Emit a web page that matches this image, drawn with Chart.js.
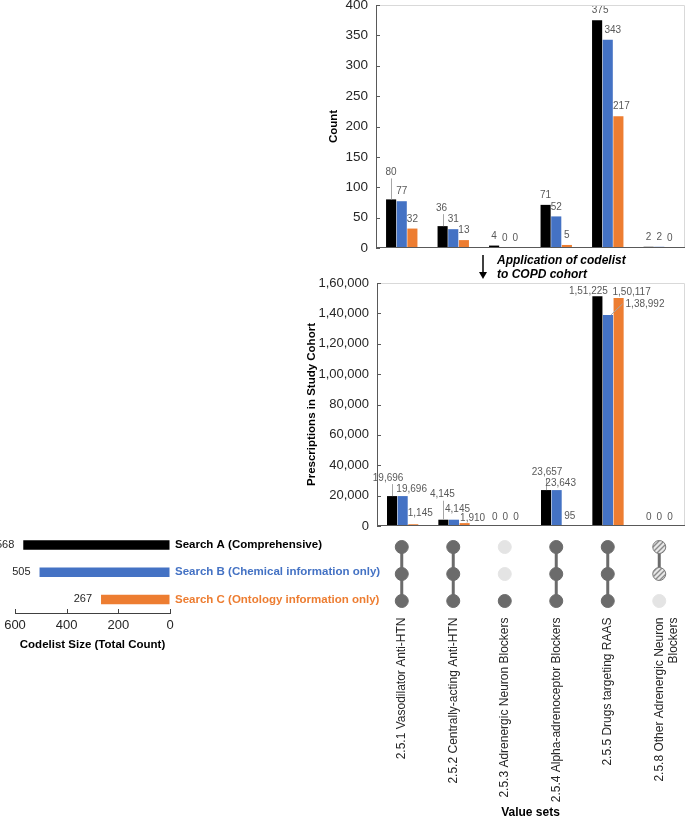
<!DOCTYPE html>
<html>
<head>
<meta charset="utf-8">
<script src="https://cdn.jsdelivr.net/npm/chart.js@4.4.1/dist/chart.umd.min.js"></script>
<style>
  body { margin: 0; background: #fff; font-family: "Liberation Sans", Arial, sans-serif; }
  #page { position: relative; width: 687px; height: 824px; overflow: hidden; }
  canvas { position: absolute; }
  #countChart { left: 300px; top: 0; }
  #rxChart { left: 300px; top: 270px; }
  #sizeChart { left: 0; top: 525px; }
  #setChart { left: 300px; top: 530px; }
  #arrow { position: absolute; left: 476px; top: 254px; }
  #note { position: absolute; left: 497px; top: 254px; font: italic bold 12px/13.5px "Liberation Sans", Arial, sans-serif; color: #000; }
</style>
</head>
<body>
<div id="page">
  <canvas id="countChart" width="387" height="262"></canvas>
  <canvas id="rxChart" width="387" height="270"></canvas>
  <canvas id="setChart" width="387" height="294"></canvas>
  <canvas id="sizeChart" width="395" height="130"></canvas>
  <svg id="arrow" width="14" height="28">
    <line x1="7" y1="1" x2="7" y2="19" stroke="#000" stroke-width="1.5"/>
    <polygon points="3,18 11,18 7,25" fill="#000"/>
  </svg>
  <div id="note">Application of codelist<br>to COPD cohort</div>
</div>
<script>
// Value sets (x categories) and searches
const valueSets = [
  "2.5.1 Vasodilator Anti-HTN",
  "2.5.2 Centrally-acting Anti-HTN",
  "2.5.3 Adrenergic Neuron Blockers",
  "2.5.4 Alpha-adrenoceptor Blockers",
  "2.5.5 Drugs targeting RAAS",
  "2.5.8 Other Adrenergic Neuron Blockers"
];
const searchNames = [
  "Search A (Comprehensive)",
  "Search B (Chemical information only)",
  "Search C (Ontology information only)"
];

// Codes per value set (Count)
const countA = [80, 36, 4, 71, 375, 2];
const countB = [77, 31, 0, 52, 343, 2];
const countC = [32, 13, 0, 5, 217, 0];

// Prescriptions in study cohort
const rxA = [19696, 4145, 0, 23657, 151225, 0];
const rxB = [19696, 4145, 0, 23643, 138992, 0];
const rxC = [1145, 1910, 0, 95, 150117, 0];

// Codelist size (total count)
const codelistSize = [568, 505, 267];

// Set membership for the dot matrix
const memberA = ["full", "full", "empty", "full", "full", "hatched"];
const memberB = ["full", "full", "empty", "full", "full", "hatched"];
const memberC = ["full", "full", "full", "full", "full", "empty"];

// Axis ranges
const countMax = 400, countStep = 50;
const rxMax = 160000, rxStep = 20000;
const sizeMax = 600, sizeStep = 200;

const colors = ["#000000", "#4472C4", "#ED7D31"];
const FONT = "'Liberation Sans', Arial, sans-serif";
Chart.defaults.font.family = FONT;

/* -------------------- helpers -------------------- */

// light frame on top/right, dark bottom axis, inward y ticks
const framePlugin = {
  id: "frame",
  afterDraw(chart) {
    const { ctx, chartArea: a } = chart;
    const y = chart.scales.y;
    ctx.save();
    ctx.lineWidth = 1;
    ctx.strokeStyle = "#d9d9d9";
    ctx.beginPath();
    ctx.moveTo(a.left, a.top + 0.5);
    ctx.lineTo(a.right - 0.5, a.top + 0.5);
    ctx.lineTo(a.right - 0.5, a.bottom);
    ctx.stroke();
    ctx.strokeStyle = "#595959";
    ctx.beginPath();
    ctx.moveTo(a.left, a.bottom - 0.5);
    ctx.lineTo(a.right, a.bottom - 0.5);
    y.ticks.forEach(t => {
      const py = Math.round(y.getPixelForValue(t.value)) + 0.5;
      ctx.moveTo(a.left, py);
      ctx.lineTo(a.left + 4, py);
    });
    ctx.stroke();
    ctx.restore();
  }
};

// value labels above bars; offsets keyed "dataset,index" -> [dx, dy, leader]
function makeBarLabels(offsets, gap, fmt) {
  return {
    id: "barLabels",
    afterDatasetsDraw(chart) {
      const { ctx } = chart;
      ctx.save();
      ctx.font = "10px " + FONT;
      ctx.fillStyle = "#595959";
      ctx.strokeStyle = "#a6a6a6";
      ctx.lineWidth = 1;
      ctx.textAlign = "center";
      ctx.textBaseline = "middle";
      chart.data.datasets.forEach((ds, d) => {
        chart.getDatasetMeta(d).data.forEach((bar, i) => {
          const [dx, dy, lead] = offsets[d + "," + i] || [0, gap];
          const lx = bar.x + dx, ly = bar.y + dy;
          const text = fmt(ds.data[i]);
          ctx.fillText(text, lx, ly);
          if (lead === "v") {
            ctx.beginPath();
            ctx.moveTo(Math.round(bar.x) + 0.5, ly + 6);
            ctx.lineTo(Math.round(bar.x) + 0.5, bar.y);
            ctx.stroke();
          } else if (lead === "d") {
            const w = ctx.measureText(text).width;
            ctx.beginPath();
            ctx.moveTo(bar.x + 3, bar.y);
            ctx.lineTo(lx - w / 2 - 3, ly);
            ctx.stroke();
          }
        });
      });
      ctx.restore();
    }
  };
}

function buildGroupedBar(id, series, cfg) {
  new Chart(document.getElementById(id), {
    type: "bar",
    data: {
      labels: valueSets,
      datasets: series.map((data, i) => ({
        label: searchNames[i],
        data,
        backgroundColor: colors[i],
        categoryPercentage: 0.62,
        barPercentage: 0.95
      }))
    },
    options: {
      responsive: false,
      animation: false,
      layout: { padding: cfg.padding, autoPadding: false },
      plugins: { legend: { display: false }, tooltip: { enabled: false } },
      scales: {
        x: { display: false },
        y: {
          min: 0,
          max: cfg.max,
          ticks: {
            stepSize: cfg.step,
            color: "#262626",
            font: { size: cfg.tickSize },
            padding: 8,
            callback: cfg.tickFmt
          },
          grid: { drawOnChartArea: false, drawTicks: false },
          border: { color: "#595959" },
          title: {
            display: true,
            text: cfg.title,
            color: "#000",
            font: { size: 11.5, weight: "bold" },
            padding: { top: cfg.titlePad, bottom: 0 }
          },
          afterFit: s => {
            s.width = cfg.axisWidth;
            s.paddingTop = 0;
            s.paddingBottom = 0;
          }
        }
      }
    },
    plugins: [framePlugin, makeBarLabels(cfg.offsets, cfg.gap, cfg.fmt)]
  });
}

/* -------------------- Chart 1: Count -------------------- */

buildGroupedBar("countChart", [countA, countB, countC], {
  padding: { top: 5, right: 2, bottom: 14, left: 0 },
  max: countMax,
  step: countStep,
  title: "Count",
  titlePad: 27,
  tickSize: 13.5,
  axisWidth: 76,
  tickFmt: v => v,
  fmt: v => String(v),
  gap: -9.5,
  offsets: {
    "0,0": [0, -27, "v"],
    "0,1": [-1, -18, "v"],
    "0,4": [3, -9.5],
    "1,4": [5, -9.5],
    "2,4": [3, -9.5]
  }
});

/* -------------------- Chart 2: Prescriptions -------------------- */

const inr = v => Number(v).toLocaleString("en-IN");

buildGroupedBar("rxChart", [rxA, rxB, rxC], {
  padding: { top: 13, right: 2, bottom: 14, left: 0 },
  max: rxMax,
  step: rxStep,
  title: "Prescriptions in Study Cohort",
  titlePad: 5,
  tickSize: 13,
  axisWidth: 77,
  tickFmt: inr,
  fmt: inr,
  gap: -9,
  offsets: {
    "0,0": [-4, -18, "v"], "1,0": [9, -7], "2,0": [7, -11],
    "0,1": [-1, -25, "v"], "1,1": [3.5, -10.5], "2,1": [8, -5],
    "0,3": [1, -18, "v"], "1,3": [4, -7], "2,3": [2.5, -9.3],
    "0,4": [-9, -5], "1,4": [37, -11, "d"], "2,4": [13, -6]
  }
});

/* -------------------- Chart 3: Codelist size (horizontal) -------------------- */

const inwardTicks = {
  id: "inwardTicks",
  afterDraw(chart) {
    const { ctx, chartArea: a } = chart;
    const x = chart.scales.x;
    ctx.save();
    ctx.strokeStyle = "#404040";
    ctx.lineWidth = 1;
    ctx.beginPath();
    x.ticks.forEach(t => {
      const px = Math.round(x.getPixelForValue(t.value)) + 0.5;
      ctx.moveTo(px, a.bottom);
      ctx.lineTo(px, a.bottom - 4);
    });
    ctx.stroke();
    // value labels left of bar ends
    ctx.font = "11px " + FONT;
    ctx.fillStyle = "#262626";
    ctx.textAlign = "right";
    ctx.textBaseline = "middle";
    chart.getDatasetMeta(0).data.forEach((bar, i) => {
      ctx.fillText(String(codelistSize[i]), bar.x - 9, bar.y);
    });
    ctx.restore();
  }
};

new Chart(document.getElementById("sizeChart"), {
  type: "bar",
  data: {
    labels: searchNames,
    datasets: [{
      data: codelistSize,
      backgroundColor: colors,
      barPercentage: 0.35,
      categoryPercentage: 1
    }]
  },
  options: {
    indexAxis: "y",
    responsive: false,
    animation: false,
    layout: { padding: { left: 15, top: 6.5, right: 0, bottom: 0 }, autoPadding: false },
    plugins: { legend: { display: false }, tooltip: { enabled: false } },
    scales: {
      x: {
        reverse: true,
        min: 0,
        max: sizeMax,
        ticks: { stepSize: sizeStep, color: "#262626", font: { size: 13 }, padding: 5 },
        grid: { drawOnChartArea: false, drawTicks: false },
        border: { color: "#404040" },
        title: {
          display: true,
          text: "Codelist Size (Total Count)",
          color: "#000",
          font: { size: 11.5, weight: "bold" },
          padding: { top: 0, bottom: 3 }
        },
        afterFit: s => {
          s.height = 42;
          s.paddingLeft = 0;
          s.paddingRight = 0;
        }
      },
      y: {
        position: "right",
        ticks: {
          color: ctx => colors[ctx.index],
          font: { size: 11.5, weight: "bold" },
          padding: 5
        },
        grid: { display: false, drawTicks: false },
        border: { display: false },
        afterFit: s => {
          s.width = 225;
          s.paddingTop = 0;
          s.paddingBottom = 0;
        }
      }
    }
  },
  plugins: [inwardTicks]
});

/* -------------------- Chart 4: set membership matrix -------------------- */

function hatchPattern() {
  const c = document.createElement("canvas");
  c.width = 5; c.height = 5;
  const g = c.getContext("2d");
  g.fillStyle = "#e8e8e8";
  g.fillRect(0, 0, 5, 5);
  g.strokeStyle = "#8a8a8a";
  g.lineWidth = 1.4;
  g.beginPath();
  g.moveTo(0, 5); g.lineTo(5, 0);
  g.moveTo(-1, 1); g.lineTo(1, -1);
  g.moveTo(4, 6); g.lineTo(6, 4);
  g.stroke();
  return g.createPattern(c, "repeat");
}

const dotFill = { full: "#6b6b6b", empty: "#e4e4e4", hatched: hatchPattern() };
const dotBorder = { full: "#6b6b6b", empty: "#e4e4e4", hatched: "#7a7a7a" };
const members = [memberA, memberB, memberC];
const rowY = [2, 1, 0];

const dotSets = members.map((m, r) => ({
  data: valueSets.map(() => rowY[r]),
  showLine: false,
  pointRadius: 6.5,
  pointBorderWidth: 1,
  pointBackgroundColor: m.map(s => dotFill[s]),
  pointBorderColor: m.map(s => dotBorder[s]),
  order: 1
}));

const linkSets = [];
valueSets.forEach((name, j) => {
  const rows = members.map((m, r) => (m[j] === "empty" ? null : rowY[r])).filter(v => v !== null);
  if (rows.length > 1) {
    linkSets.push({
      data: [{ x: name, y: Math.max(...rows) }, { x: name, y: Math.min(...rows) }],
      borderColor: "#6b6b6b",
      borderWidth: 3,
      pointRadius: 0,
      order: 2
    });
  }
});

new Chart(document.getElementById("setChart"), {
  type: "line",
  data: { labels: valueSets, datasets: [...linkSets, ...dotSets] },
  options: {
    responsive: false,
    animation: false,
    layout: { padding: { left: 76, right: 2, top: 3.5, bottom: 0 }, autoPadding: false },
    plugins: { legend: { display: false }, tooltip: { enabled: false } },
    scales: {
      x: {
        offset: true,
        ticks: {
          autoSkip: false,
          minRotation: 90,
          maxRotation: 90,
          padding: 3,
          color: "#262626",
          font: { size: 12 },
          callback: (v, i) => {
            const s = valueSets[i];
            if (s.length > 35) {
              const k = s.lastIndexOf(" ");
              return [s.slice(0, k), s.slice(k + 1)];
            }
            return s;
          }
        },
        grid: { display: false, drawTicks: false },
        border: { display: false },
        title: {
          display: true,
          text: "Value sets",
          color: "#000",
          font: { size: 12, weight: "bold" },
          padding: { top: 0, bottom: 4 }
        },
        afterFit: s => {
          s.height = 209.5;
          s.paddingLeft = 0;
          s.paddingRight = 0;
        }
      },
      y: { display: false, min: -0.5, max: 2.5 }
    }
  }
});
</script>
</body>
</html>
